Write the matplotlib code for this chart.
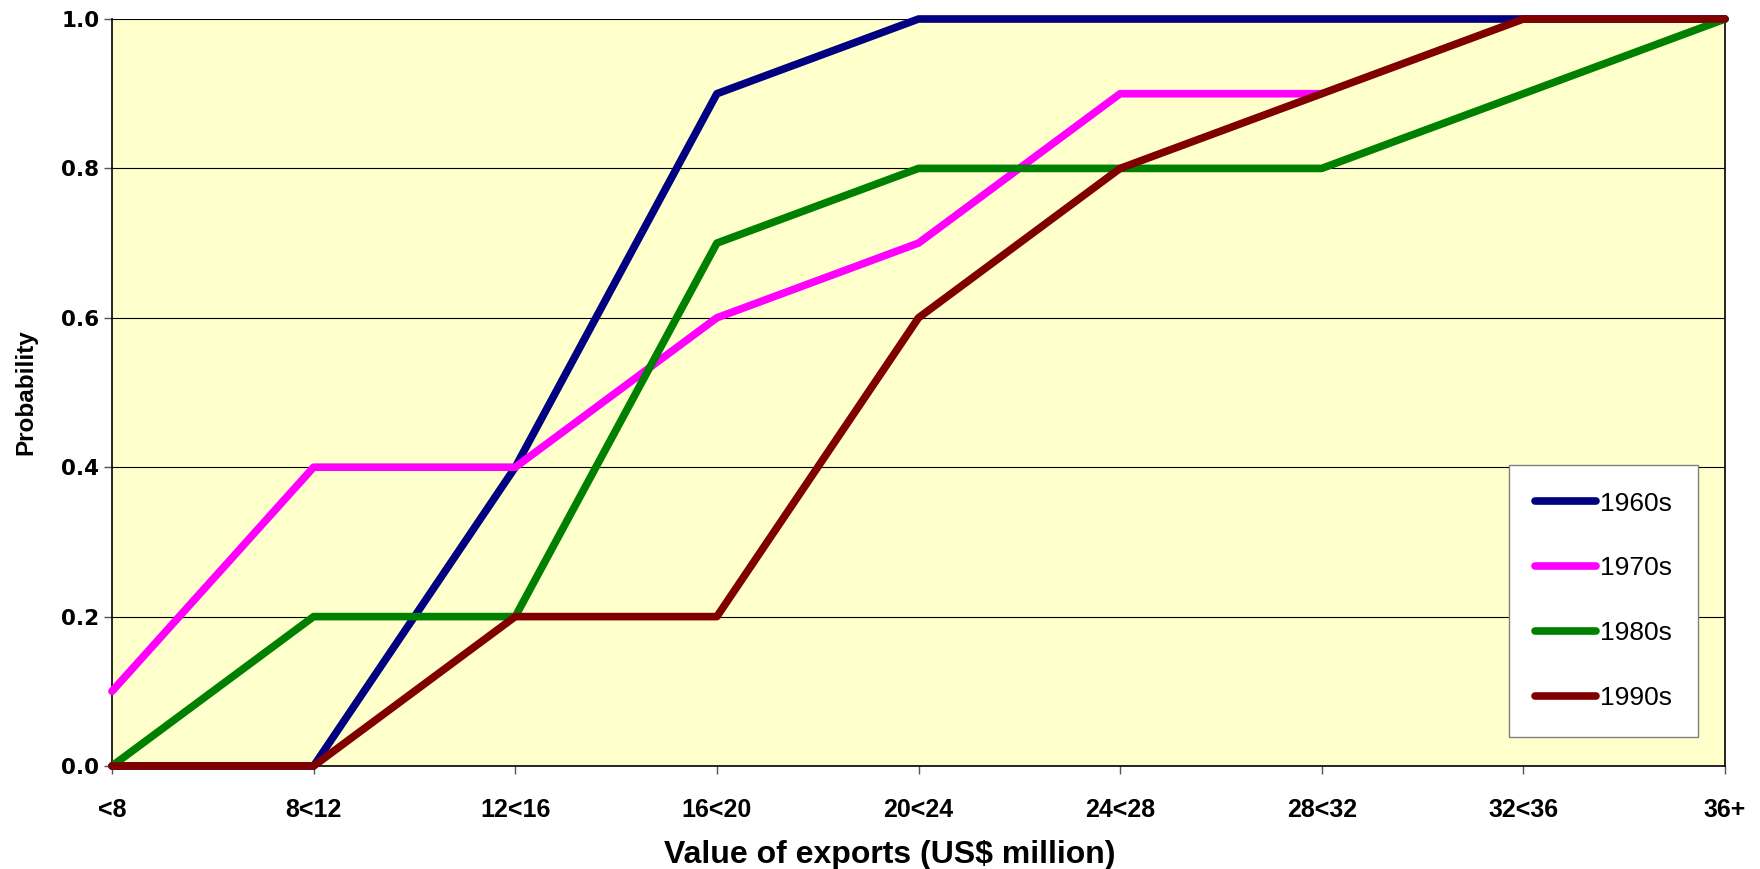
import matplotlib
matplotlib.use("Agg")
import matplotlib.pyplot as plt
import numpy as np

categories = ["<8", "8<12", "12<16", "16<20", "20<24", "24<28", "28<32", "32<36", "36+"]
p_1960s = [0.0, 0.0, 0.4, 0.9, 1.0, 1.0, 1.0, 1.0, 1.0]
p_1970s = [0.1, 0.4, 0.4, 0.6, 0.7, 0.9, 0.9, np.nan, np.nan]
p_1980s = [0.0, 0.2, 0.2, 0.7, 0.8, 0.8, 0.8, 0.9, 1.0]
p_1990s = [0.0, 0.0, 0.2, 0.2, 0.6, 0.8, 0.9, 1.0, 1.0]
series_names = ["1960s", "1970s", "1980s", "1990s"]
series_colors = ["#000080", "#FF00FF", "#008000", "#800000"]
y_ticks = [0.0, 0.2, 0.4, 0.6, 0.8, 1.0]

fig = plt.figure(figsize=(17.6, 8.69), dpi=100)
ax = fig.add_axes([112 / 1760, 1 - 766 / 869, (1725 - 112) / 1760, (766 - 19) / 869])
ax.set_facecolor("#FFFFCC")

x = np.arange(len(categories))
for vals, name, col in zip([p_1960s, p_1970s, p_1980s, p_1990s], series_names, series_colors):
    ax.plot(x, vals, color=col, lw=5.5, label=name, solid_capstyle="round",
            solid_joinstyle="round", clip_on=False, zorder=3)

ax.set_xlim(0, len(categories) - 1)
ax.set_ylim(0, 1)
ax.set_xticks(x)
ax.set_xticklabels(categories, fontfamily="Liberation Sans", fontweight="bold", fontsize=18)
ax.set_yticks(y_ticks)
ax.set_yticklabels([f"{v:.1f}" for v in y_ticks], fontfamily="DejaVu Sans",
                   fontweight="bold", fontsize=15.5)
ax.tick_params(axis="x", direction="out", length=6, width=1, color="#555555", pad=17)
ax.tick_params(axis="y", direction="out", length=6, width=1, color="#555555", pad=3)

ax.grid(axis="y", color="black", lw=0.8, zorder=1)
ax.set_axisbelow(True)
for side in ["left", "right", "bottom"]:
    ax.spines[side].set_color("black")
    ax.spines[side].set_linewidth(1.2)
ax.spines["top"].set_visible(False)

ax.set_xlabel("Value of exports (US$ million)", fontfamily="Liberation Sans",
              fontweight="bold", fontsize=23)
ax.xaxis.set_label_coords(0.482, -0.099)
ax.set_ylabel("Probability", fontfamily="Liberation Sans", fontweight="bold",
              fontsize=17.5)
ax.yaxis.set_label_coords(-0.0465, 0.5)

leg = ax.legend(loc="center", bbox_to_anchor=(0.9245, 0.221), frameon=True,
                fancybox=False, framealpha=1, edgecolor="#808080",
                prop={"family": "Liberation Sans", "size": 19},
                handlelength=2.3, handletextpad=0.15, labelspacing=1.55,
                borderpad=1.0, borderaxespad=0)
leg.get_frame().set_linewidth(1.0)
leg.set_zorder(5)

fig.savefig("out.png", dpi=100, facecolor="white")
